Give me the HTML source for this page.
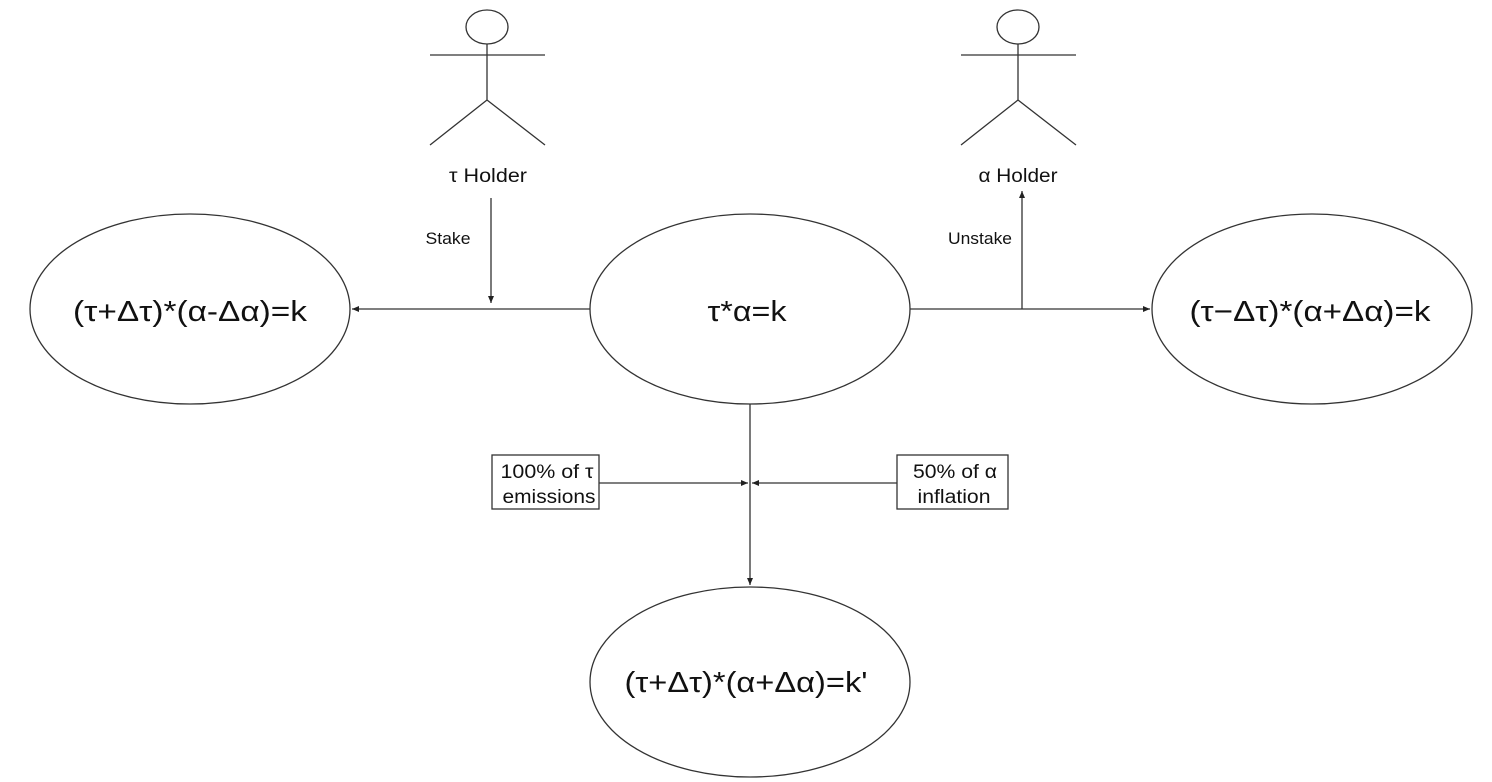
<!DOCTYPE html>
<html><head><meta charset="utf-8"><style>html,body{margin:0;padding:0;background:#fff}svg{display:block}</style></head>
<body>
<svg width="1492" height="782" viewBox="0 0 1492 782" xmlns="http://www.w3.org/2000/svg" font-family="Liberation Sans, sans-serif">
<defs><marker id="a" markerWidth="8" markerHeight="8" refX="7" refY="4" orient="auto" markerUnits="userSpaceOnUse"><path d="M0,1 L7,4 L0,7 Z" fill="#222"/></marker></defs>
<g fill="none" stroke="#333" stroke-width="1.3">
<ellipse cx="190" cy="309" rx="160" ry="95"/>
<ellipse cx="750" cy="309" rx="160" ry="95"/>
<ellipse cx="1312" cy="309" rx="160" ry="95"/>
<ellipse cx="750" cy="682" rx="160" ry="95"/>
<ellipse cx="487" cy="27" rx="21" ry="17"/>
<path d="M430 55H545M487 44V100M487 100L430 145M487 100L545 145"/>
<ellipse cx="1018" cy="27" rx="21" ry="17"/>
<path d="M961 55H1076M1018 44V100M1018 100L961 145M1018 100L1076 145"/>
<path d="M590 309H352" marker-end="url(#a)"/>
<path d="M910 309H1150" marker-end="url(#a)"/>
<path d="M491 198V303" marker-end="url(#a)"/>
<path d="M1022 309V191" marker-end="url(#a)"/>
<path d="M750 404V585" marker-end="url(#a)"/>
<path d="M599 483H748" marker-end="url(#a)"/>
<path d="M897 483H752" marker-end="url(#a)"/>
<rect x="492" y="455" width="107" height="54"/>
<rect x="897" y="455" width="111" height="54"/>
</g>
<g fill="#111" text-anchor="middle" lengthAdjust="spacingAndGlyphs">
<text x="190" y="321" font-size="29" textLength="234" lengthAdjust="spacingAndGlyphs">(τ+Δτ)*(α-Δα)=k</text>
<text x="747" y="321" font-size="29" textLength="79" lengthAdjust="spacingAndGlyphs">τ*α=k</text>
<text x="1310" y="321" font-size="29" textLength="241" lengthAdjust="spacingAndGlyphs">(τ−Δτ)*(α+Δα)=k</text>
<text x="746" y="692" font-size="29" textLength="243" lengthAdjust="spacingAndGlyphs">(τ+Δτ)*(α+Δα)=k'</text>
<text x="488" y="182" font-size="19" textLength="78" lengthAdjust="spacingAndGlyphs">τ Holder</text>
<text x="1018" y="182" font-size="19" textLength="79" lengthAdjust="spacingAndGlyphs">α Holder</text>
<text x="448" y="244" font-size="17" textLength="45" lengthAdjust="spacingAndGlyphs">Stake</text>
<text x="980" y="244" font-size="17" textLength="64" lengthAdjust="spacingAndGlyphs">Unstake</text>
<text x="547" y="478" font-size="19" textLength="93" lengthAdjust="spacingAndGlyphs">100% of τ</text>
<text x="549" y="503" font-size="19" textLength="93" lengthAdjust="spacingAndGlyphs">emissions</text>
<text x="955" y="478" font-size="19" textLength="84" lengthAdjust="spacingAndGlyphs">50% of α</text>
<text x="954" y="503" font-size="19" textLength="73" lengthAdjust="spacingAndGlyphs">inflation</text>
</g>
</svg>
</body></html>
